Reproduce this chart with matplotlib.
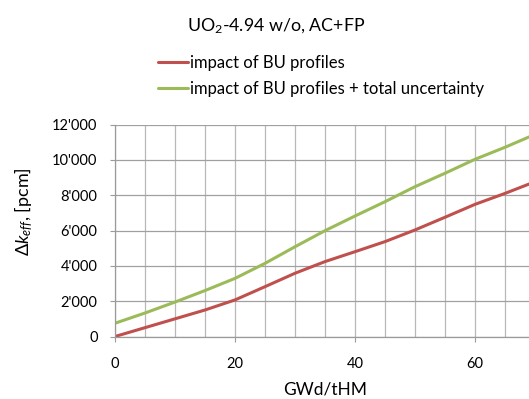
import matplotlib
matplotlib.use("Agg")
import matplotlib.pyplot as plt
from matplotlib.ticker import MultipleLocator, FuncFormatter

plt.rcParams['font.family'] = ['Lato', 'DejaVu Sans']
plt.rcParams['mathtext.fontset'] = 'custom'
plt.rcParams['mathtext.rm'] = 'Lato'
plt.rcParams['mathtext.it'] = 'Lato:italic'

burnup = [0, 5, 10, 15, 20, 25, 30, 35, 40, 45, 50, 55, 60, 65, 70]
bu_profiles = [0, 500, 1000, 1500, 2070, 2820, 3580, 4240, 4800, 5370, 6030, 6750, 7480, 8100, 8760]
bu_total = [750, 1330, 1950, 2600, 3290, 4140, 5080, 5990, 6820, 7630, 8480, 9240, 10030, 10710, 11440]

title = "UO$_2$-4.94 w/o, AC+FP"
labels = ["impact of BU profiles", "impact of BU profiles + total uncertainty"]
colors = ["#c0504d", "#9bbb59"]

W, H = 529, 399
fig = plt.figure(figsize=(W / 100, H / 100), dpi=100)
ax = fig.add_axes([115 / W, 1 - 336.5 / H, 420 / W, 212 / H])

l1, = ax.plot(burnup, bu_profiles, color=colors[0], lw=2.2, solid_capstyle='round')
l2, = ax.plot(burnup, bu_total, color=colors[1], lw=2.2, solid_capstyle='round')

ax.set_xlim(0, 70)
ax.set_ylim(0, 12000)
ax.xaxis.set_major_locator(MultipleLocator(20))
ax.xaxis.set_minor_locator(MultipleLocator(5))
ax.yaxis.set_major_locator(MultipleLocator(2000))
ax.yaxis.set_major_formatter(FuncFormatter(lambda v, p: f"{int(v):,}".replace(",", "'")))
ax.grid(True, which='both', axis='x', color='#b8b8b8', lw=0.9)
ax.grid(True, which='major', axis='y', color='#a0a0a0', lw=0.9)
ax.set_axisbelow(True)
for s in ['top', 'right']:
    ax.spines[s].set_visible(False)
for s in ['left', 'bottom']:
    ax.spines[s].set_color('#9a9a9a')
    ax.spines[s].set_linewidth(0.9)
ax.tick_params(axis='both', which='major', direction='out', length=3.6, color='#9a9a9a',
               labelsize=10.5, labelcolor='#000000')
ax.tick_params(axis='y', which='major', pad=9)
ax.tick_params(axis='x', which='major', pad=11)
ax.tick_params(axis='x', which='minor', length=0)

ax.set_xlabel("GWd/tHM", fontsize=12.5, labelpad=7.5)
fig.text(24 / W, 1 - 212 / H, r"$\Delta k_{eff}$, [pcm]", rotation=90, ha='center', va='center',
         fontsize=13)

fig.text(276 / W, 1 - 26 / H, title, ha='center', va='center', fontsize=12.8)

fig.legend(handles=[l1, l2], labels=labels, loc='upper left',
           bbox_to_anchor=(151 / W, 1 - 48 / H), frameon=False, fontsize=12,
           handlelength=1.8, handletextpad=0.15, labelspacing=0.62, borderaxespad=0)

fig.savefig("out.png", dpi=100)
